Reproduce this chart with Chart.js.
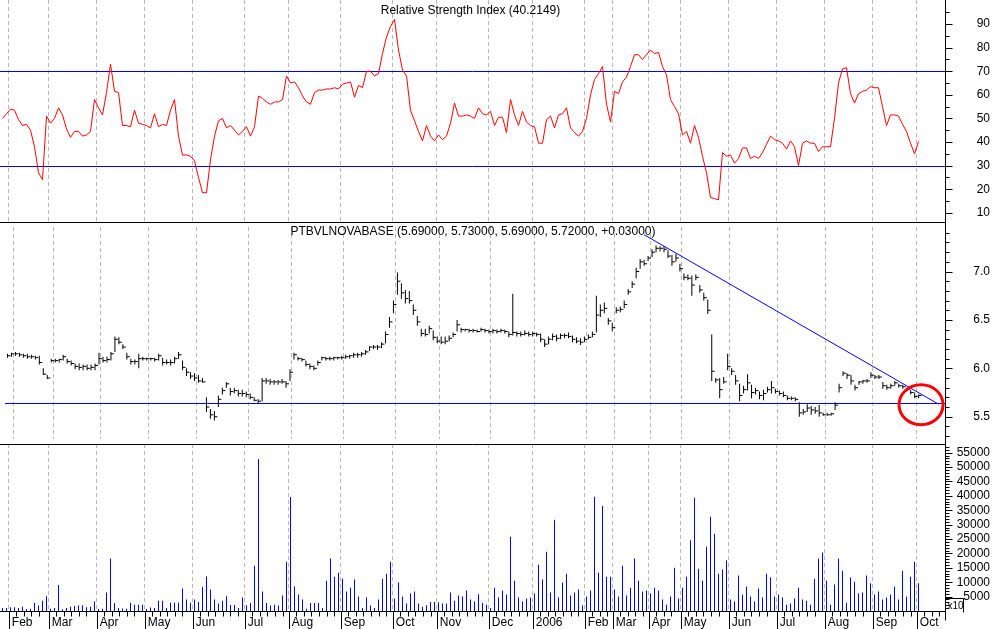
<!DOCTYPE html>
<html>
<head>
<meta charset="utf-8">
<script src="https://cdn.jsdelivr.net/npm/chart.js@4.4.0/dist/chart.umd.min.js"></script>
<style>
  html, body { margin: 0; padding: 0; background: #fff; }
  #wrap { position: relative; width: 994px; height: 629px; overflow: hidden; }
  canvas { position: absolute; left: 0; }
</style>
</head>
<body>
<div id="wrap">
  <canvas id="chartRsi" width="994" height="222" style="top:0"></canvas>
  <canvas id="chartPrice" width="994" height="222" style="top:222px"></canvas>
  <canvas id="chartVolume" width="994" height="185" style="top:444px"></canvas>
</div>
<script>
"use strict";

// bar index of the first session of each month, and its label
var monthStarts = [2, 12, 24, 36, 48, 61, 72, 85, 98, 109, 122, 133, 146, 153, 162, 170, 182, 194, 206, 218, 229];
var monthNames = ["Feb", "Mar", "Apr", "May", "Jun", "Jul", "Aug", "Sep", "Oct", "Nov", "Dec",
                  "2006", "Feb", "Mar", "Apr", "May", "Jun", "Jul", "Aug", "Sep", "Oct"];

var rsiTitle = "Relative Strength Index (40.2149)";
var priceTitle = "PTBVLNOVABASE (5.69000, 5.73000, 5.69000, 5.72000, +0.03000)";

var rsiValues = [
  50, 52, 54, 53.5, 49.5, 47, 47.5, 45, 38, 27,
  24, 51, 48, 50, 54.5, 51.5, 45.5, 42, 44.5, 44.5,
  42.5, 43, 44.5, 58, 54.5, 51.5, 61, 73, 61.5, 61,
  47, 47, 46.5, 53.5, 48, 47.5, 47, 46, 52, 46.5,
  47.5, 47, 53.5, 58, 42.5, 34.5, 34.5, 34, 32, 25,
  18.5, 18.5, 32.5, 42.5, 49, 50, 46, 47, 45, 43,
  44.5, 46.5, 42.5, 46.5, 59.5, 58.5, 57, 56, 57, 57,
  58, 68, 65, 65.5, 63, 59.5, 57, 56, 61, 62,
  62, 62.5, 62.5, 63, 62.5, 64.5, 65, 65.5, 59, 64,
  63, 70, 70, 68, 69, 77.5, 84.5, 89, 92, 79,
  70.5, 68, 53.5, 49, 44.5, 40.5, 47, 42.5, 40.5, 43,
  41, 42.5, 48, 56.5, 51, 51, 51.5, 51, 50, 54.5,
  52, 51.5, 53, 47, 50.5, 50.5, 44, 58, 51.5, 47,
  53, 48.5, 47, 46.5, 39.5, 39.5, 49.5, 51, 46, 51.5,
  52, 54.5, 46, 44, 42.5, 44.5, 50, 60, 66.5, 69,
  72, 56, 48.5, 61.5, 60.5, 65.5, 67.5, 72, 77, 77,
  75, 77, 79, 77.5, 78, 72, 68.5, 58, 55, 52,
  43, 44.5, 39.5, 47, 42, 34, 27, 16.5, 16, 15.5,
  35.5, 34, 34.5, 31, 33, 37.5, 37.5, 33, 34, 33,
  35.5, 39, 42.5, 41, 40.5, 39.5, 37, 40.5, 38, 30,
  39.5, 40.5, 39.5, 39.5, 36, 38, 38, 38, 50, 65,
  71, 71.5, 60.5, 56.5, 60.5, 61.5, 62, 63.5, 63, 63,
  55, 47, 51.5, 51.5, 51, 47.5, 44.5, 39.5, 35, 40.2149
];
var rsiLevels = [70, 30];

var priceHigh = [
  6.15, 6.16, 6.17, 6.16, 6.15, 6.15, 6.14, 6.13, 6.13, 6.00,
  5.93, 6.10, 6.10, 6.10, 6.14, 6.10, 6.08, 6.05, 6.05, 6.04,
  6.04, 6.04, 6.05, 6.16, 6.12, 6.12, 6.17, 6.33, 6.32, 6.25,
  6.16, 6.10, 6.09, 6.15, 6.12, 6.11, 6.11, 6.11, 6.15, 6.11,
  6.09, 6.09, 6.12, 6.17, 6.08, 6.00, 5.96, 5.95, 5.93, 5.90,
  5.70, 5.58, 5.56, 5.72, 5.80, 5.86, 5.80, 5.80, 5.78, 5.78,
  5.76, 5.74, 5.70, 5.68, 5.90, 5.90, 5.89, 5.88, 5.88, 5.89,
  5.87, 5.99, 6.16, 6.12, 6.11, 6.08, 6.05, 6.03, 6.08, 6.12,
  6.12, 6.12, 6.12, 6.12, 6.13, 6.14, 6.14, 6.16, 6.16, 6.17,
  6.19, 6.23, 6.24, 6.24, 6.27, 6.38, 6.53, 6.70, 6.99, 6.88,
  6.81, 6.80, 6.66, 6.54, 6.41, 6.41, 6.44, 6.39, 6.33, 6.33,
  6.33, 6.34, 6.37, 6.50, 6.42, 6.41, 6.41, 6.41, 6.40, 6.42,
  6.41, 6.40, 6.41, 6.40, 6.41, 6.40, 6.38, 6.77, 6.38, 6.38,
  6.39, 6.38, 6.38, 6.37, 6.36, 6.30, 6.33, 6.36, 6.35, 6.36,
  6.36, 6.37, 6.34, 6.32, 6.31, 6.33, 6.35, 6.38, 6.75, 6.66,
  6.68, 6.52, 6.47, 6.63, 6.64, 6.70, 6.82, 6.90, 7.04, 7.13,
  7.12, 7.16, 7.23, 7.27, 7.26, 7.26, 7.22, 7.17, 7.18, 7.08,
  6.98, 6.97, 6.96, 6.97, 6.86, 6.78, 6.71, 6.35, 5.90, 5.90,
  5.91, 6.15, 6.00, 5.93, 5.84, 5.82, 5.94, 5.83, 5.80, 5.76,
  5.78, 5.81, 5.87, 5.79, 5.77, 5.76, 5.72, 5.71, 5.70, 5.65,
  5.58, 5.63, 5.61, 5.60, 5.62, 5.54, 5.54, 5.54, 5.65, 5.84,
  5.97, 5.95, 5.93, 5.83, 5.87, 5.88, 5.89, 5.96, 5.93, 5.93,
  5.86, 5.83, 5.84, 5.87, 5.84, 5.83, 5.80, 5.78, 5.75, 5.73
];
var priceLow = [
  6.11, 6.12, 6.13, 6.12, 6.11, 6.10, 6.10, 6.09, 6.04, 5.93,
  5.89, 6.06, 6.06, 6.06, 6.08, 6.05, 6.03, 5.99, 5.98, 5.98,
  5.98, 5.98, 5.98, 6.04, 6.06, 6.06, 6.08, 6.17, 6.25, 6.20,
  6.09, 6.04, 6.04, 6.00, 6.08, 6.08, 6.08, 6.07, 6.08, 6.03,
  6.04, 6.03, 6.05, 6.10, 5.98, 5.92, 5.89, 5.87, 5.85, 5.85,
  5.55, 5.48, 5.46, 5.60, 5.73, 5.80, 5.72, 5.74, 5.71, 5.71,
  5.70, 5.68, 5.66, 5.64, 5.66, 5.84, 5.83, 5.83, 5.83, 5.84,
  5.80, 5.87, 6.09, 6.08, 6.07, 6.02, 5.99, 5.98, 6.03, 6.08,
  6.08, 6.08, 6.08, 6.09, 6.09, 6.10, 6.10, 6.11, 6.11, 6.12,
  6.14, 6.18, 6.20, 6.19, 6.21, 6.26, 6.42, 6.57, 6.76, 6.72,
  6.67, 6.67, 6.55, 6.44, 6.33, 6.33, 6.36, 6.29, 6.26, 6.25,
  6.25, 6.28, 6.32, 6.38, 6.37, 6.38, 6.37, 6.37, 6.37, 6.38,
  6.37, 6.36, 6.36, 6.36, 6.37, 6.36, 6.32, 6.34, 6.33, 6.33,
  6.34, 6.33, 6.33, 6.33, 6.27, 6.22, 6.25, 6.29, 6.28, 6.30,
  6.31, 6.31, 6.27, 6.26, 6.24, 6.27, 6.30, 6.32, 6.37, 6.53,
  6.57, 6.45, 6.38, 6.57, 6.58, 6.62, 6.76, 6.83, 6.93, 7.03,
  7.06, 7.11, 7.15, 7.20, 7.21, 7.20, 7.14, 7.06, 7.10, 7.00,
  6.91, 6.91, 6.75, 6.91, 6.78, 6.70, 6.56, 5.87, 5.85, 5.69,
  5.84, 5.98, 5.93, 5.83, 5.66, 5.74, 5.77, 5.69, 5.73, 5.68,
  5.67, 5.75, 5.74, 5.74, 5.72, 5.70, 5.67, 5.67, 5.66, 5.50,
  5.52, 5.55, 5.52, 5.53, 5.50, 5.51, 5.51, 5.51, 5.57, 5.75,
  5.92, 5.89, 5.83, 5.77, 5.83, 5.84, 5.85, 5.90, 5.89, 5.89,
  5.79, 5.78, 5.79, 5.82, 5.80, 5.79, 5.76, 5.73, 5.69, 5.69
];
var priceClose = [
  6.13, 6.15, 6.15, 6.14, 6.13, 6.12, 6.12, 6.11, 6.06, 5.94,
  5.90, 6.08, 6.08, 6.09, 6.12, 6.07, 6.05, 6.02, 6.01, 6.02,
  6.00, 6.01, 6.03, 6.10, 6.08, 6.09, 6.15, 6.30, 6.27, 6.22,
  6.12, 6.07, 6.07, 6.10, 6.10, 6.10, 6.10, 6.09, 6.13, 6.06,
  6.06, 6.06, 6.10, 6.14, 6.01, 5.96, 5.92, 5.90, 5.87, 5.86,
  5.60, 5.52, 5.50, 5.68, 5.77, 5.84, 5.76, 5.77, 5.74, 5.74,
  5.73, 5.70, 5.67, 5.66, 5.87, 5.87, 5.86, 5.86, 5.86, 5.86,
  5.84, 5.96, 6.14, 6.10, 6.09, 6.04, 6.02, 6.00, 6.06, 6.11,
  6.10, 6.10, 6.11, 6.11, 6.11, 6.12, 6.13, 6.14, 6.14, 6.15,
  6.17, 6.22, 6.22, 6.22, 6.25, 6.35, 6.48, 6.66, 6.90, 6.78,
  6.72, 6.70, 6.60, 6.48, 6.36, 6.35, 6.41, 6.32, 6.28, 6.27,
  6.28, 6.31, 6.35, 6.45, 6.40, 6.40, 6.39, 6.39, 6.38, 6.40,
  6.39, 6.38, 6.39, 6.38, 6.39, 6.38, 6.35, 6.37, 6.36, 6.35,
  6.36, 6.35, 6.36, 6.35, 6.30, 6.25, 6.30, 6.33, 6.31, 6.34,
  6.34, 6.33, 6.30, 6.28, 6.27, 6.30, 6.32, 6.35, 6.55, 6.60,
  6.62, 6.49, 6.42, 6.60, 6.61, 6.66, 6.79, 6.87, 7.00, 7.10,
  7.08, 7.14, 7.20, 7.24, 7.24, 7.23, 7.16, 7.10, 7.14, 7.03,
  6.94, 6.93, 6.86, 6.94, 6.81, 6.73, 6.60, 5.97, 5.88, 5.78,
  5.86, 6.02, 5.97, 5.87, 5.72, 5.78, 5.85, 5.75, 5.77, 5.72,
  5.74, 5.78, 5.80, 5.76, 5.74, 5.72, 5.69, 5.69, 5.68, 5.54,
  5.55, 5.59, 5.57, 5.56, 5.54, 5.52, 5.52, 5.53, 5.62, 5.80,
  5.95, 5.93, 5.87, 5.80, 5.86, 5.87, 5.87, 5.93, 5.91, 5.91,
  5.82, 5.80, 5.82, 5.85, 5.82, 5.81, 5.78, 5.75, 5.71, 5.72
];

// hand drawn lines on the price panel
var supportLevel = 5.645;
var trendBars = [160, 234];
var trendPrices = [7.38, 5.63];
var markBar = 229.6;
var markPrice = 5.625;

var volumeValues = [
  1000, 1000, 1300, 1300, 1000, 1500, 700, 800, 2800, 1900,
  3600, 5100, 800, 1000, 9000, 600, 1000, 1500, 1700, 1900,
  2000, 1300, 1500, 3300, 700, 800, 6400, 18200, 2800, 1000,
  900, 800, 2900, 2200, 2200, 2200, 700, 1200, 1000, 3600,
  3600, 1000, 2900, 2900, 2900, 7800, 4000, 2900, 4000, 3100,
  8300, 12000, 7500, 4000, 2600, 3600, 5100, 2100, 2100, 1000,
  4700, 2000, 2800, 15700, 52800, 6800, 2800, 1900, 2200, 1900,
  5400, 17100, 39600, 8500, 5700, 4000, 800, 2800, 2800, 2800,
  1000, 10500, 18200, 11900, 13300, 11200, 6800, 8100, 10900, 5000,
  1000, 4700, 1900, 1000, 4000, 11200, 12900, 17100, 4300, 9900,
  5000, 2600, 6100, 6800, 2600, 1500, 2000, 3100, 3100, 3000,
  2600, 2600, 6400, 3600, 5400, 5000, 7100, 4000, 3300, 5800,
  2900, 2200, 1000, 8100, 4700, 7100, 5700, 25800, 10500, 4700,
  3300, 4300, 4700, 6100, 16100, 10900, 20600, 6400, 31700, 4700,
  9900, 12900, 5400, 6400, 7500, 1900, 5000, 7100, 39700, 13300,
  36500, 11900, 11900, 7500, 5000, 15700, 5400, 8100, 18200, 10500,
  6800, 7100, 6100, 8100, 7100, 4000, 2200, 5000, 15000, 4300,
  8100, 11900, 24600, 39300, 14700, 10500, 22300, 32700, 26800, 12900,
  14400, 17500, 4000, 3300, 12300, 5700, 8500, 5000, 3300, 7800,
  4700, 12900, 11600, 5000, 5700, 4700, 2200, 2600, 4300, 8100,
  4000, 3600, 2200, 11200, 18200, 20300, 10500, 2200, 9200, 18200,
  14000, 2900, 11600, 10200, 6100, 6400, 12300, 9600, 5700, 6800,
  4000, 4700, 5700, 8500, 4000, 14000, 5000, 11900, 17100, 9600
];

var xMin = -0.625;
var xMax = 235.625;

Chart.defaults.font.family = '"Liberation Sans", Arial, sans-serif';
Chart.defaults.font.size = 12;
Chart.defaults.color = "#000";

function noPadding(scale) {
  scale.paddingTop = 0;
  scale.paddingBottom = 0;
  scale.paddingLeft = 0;
  scale.paddingRight = 0;
}

function timeAxis(showLabels) {
  return {
    type: "linear",
    min: xMin,
    max: xMax,
    offset: false,
    afterBuildTicks: function(scale) {
      scale.ticks = monthStarts.map(function(b) { return {value: b - 0.5}; });
    },
    grid: {color: "#b8b8b8", drawTicks: false, offset: false},
    border: {display: false, dash: [4, 3]},
    ticks: {
      display: showLabels,
      autoSkip: false,
      maxRotation: 0,
      minRotation: 0,
      align: "start",
      padding: 4,
      callback: function(v, k) { return " " + monthNames[k]; }
    },
    afterFit: function(scale) {
      scale.height = showLabels ? 18 : 0;
      noPadding(scale);
    }
  };
}

function valueAxis(min, max, tickValues, labelOf) {
  return {
    position: "right",
    min: min,
    max: max,
    afterBuildTicks: function(scale) {
      scale.ticks = tickValues.map(function(v) { return {value: v}; });
    },
    grid: {display: false, drawTicks: false},
    border: {display: false},
    ticks: {
      autoSkip: false,
      crossAlign: "far",
      padding: 0,
      callback: function(v) { return labelOf(v); }
    },
    afterFit: function(scale) {
      scale.width = 45;
      noPadding(scale);
    }
  };
}

function drawValueAxis(chart, bottom) {
  var ctx = chart.ctx;
  var y = chart.scales.y;
  var x0 = Math.round(chart.chartArea.right) + 0.5;
  ctx.save();
  ctx.setLineDash([]);
  ctx.strokeStyle = "#000";
  ctx.lineWidth = 1;
  ctx.beginPath();
  ctx.moveTo(x0, 0);
  ctx.lineTo(x0, bottom);
  y.ticks.forEach(function(t) {
    var py = Math.round(y.getPixelForValue(t.value)) + 0.5;
    var len = t.label ? 7 : 4;
    ctx.moveTo(x0, py);
    ctx.lineTo(x0 + len, py);
  });
  ctx.stroke();
  ctx.restore();
}

function drawTopLine(chart) {
  var ctx = chart.ctx;
  ctx.save();
  ctx.setLineDash([]);
  ctx.strokeStyle = "#000";
  ctx.lineWidth = 1;
  ctx.beginPath();
  ctx.moveTo(0, 0.5);
  ctx.lineTo(chart.chartArea.right, 0.5);
  ctx.stroke();
  ctx.restore();
}

function drawTitle(chart, text, y) {
  var ctx = chart.ctx;
  var area = chart.chartArea;
  ctx.save();
  ctx.font = '12px "Liberation Sans", Arial, sans-serif';
  ctx.fillStyle = "#000";
  ctx.textAlign = "center";
  ctx.textBaseline = "middle";
  ctx.fillText(text, (area.left + area.right) / 2 - 2, y);
  ctx.restore();
}

function drawLevel(chart, value) {
  var ctx = chart.ctx;
  var area = chart.chartArea;
  var py = Math.round(chart.scales.y.getPixelForValue(value)) + 0.5;
  ctx.save();
  ctx.setLineDash([]);
  ctx.strokeStyle = "#0000ff";
  ctx.lineWidth = 1;
  ctx.beginPath();
  ctx.moveTo(area.left, py);
  ctx.lineTo(area.right, py);
  ctx.stroke();
  ctx.restore();
}

function rangeTicks(from, to, step) {
  var out = [];
  for (var k = from; k <= to; k += step) out.push(k);
  return out;
}

var baseOptions = {
  responsive: false,
  animation: false,
  events: [],
  layout: {padding: {left: 0, top: 0, bottom: 0, right: 4}},
  plugins: {legend: {display: false}, tooltip: {enabled: false}, title: {display: false}}
};

function withScales(scales) {
  return Object.assign({}, baseOptions, {scales: scales});
}

// RSI panel
var chartRsi = new Chart("chartRsi", {
  type: "line",
  data: {
    datasets: [{
      data: rsiValues.map(function(v, i) { return {x: i, y: v}; }),
      borderColor: "#ff0000",
      borderWidth: 1,
      pointRadius: 0,
      tension: 0
    }]
  },
  options: withScales({
    x: timeAxis(false),
    y: valueAxis(6.1, 100.2, rangeTicks(10, 95, 5), function(v) {
      return v % 10 === 0 ? String(v) : "";
    })
  }),
  plugins: [{
    id: "rsiDecor",
    beforeDatasetsDraw: function(chart) {
      rsiLevels.forEach(function(v) { drawLevel(chart, v); });
    },
    afterDraw: function(chart) {
      drawTitle(chart, rsiTitle, 11);
      drawValueAxis(chart, chart.height);
    }
  }]
});

// price panel
var chartPrice = new Chart("chartPrice", {
  type: "bar",
  data: {
    datasets: [
      {
        type: "line",
        data: trendBars.map(function(b, k) { return {x: b, y: trendPrices[k]}; }),
        borderColor: "#0000ff",
        borderWidth: 1,
        pointRadius: 0,
        tension: 0
      },
      {
        type: "line",
        data: priceClose.map(function(v, i) { return {x: i, y: v}; }),
        showLine: false,
        pointStyle: "dash",
        pointRadius: 3,
        pointBorderWidth: 1,
        pointBorderColor: "#000",
        pointBackgroundColor: "#000"
      },
      {
        type: "bar",
        data: priceHigh.map(function(h, i) { return {x: i, y: [priceLow[i], h]}; }),
        backgroundColor: "#000",
        barThickness: 1,
        inflateAmount: 0,
        grouped: false
      }
    ]
  },
  options: withScales({
    x: timeAxis(false),
    y: valueAxis(5.27, 7.46, rangeTicks(53, 74, 1).map(function(k) { return k / 10; }), function(v) {
      var k = Math.round(v * 10);
      return k % 5 === 0 ? v.toFixed(1) : "";
    })
  }),
  plugins: [{
    id: "priceDecor",
    beforeDatasetsDraw: function(chart) {
      drawLevel(chart, supportLevel);
    },
    afterDatasetsDraw: function(chart) {
      var ctx = chart.ctx;
      var cx = chart.scales.x.getPixelForValue(markBar);
      var cy = chart.scales.y.getPixelForValue(markPrice);
      ctx.save();
      ctx.setLineDash([]);
      ctx.strokeStyle = "#ff0000";
      ctx.lineWidth = 3;
      ctx.beginPath();
      ctx.ellipse(cx, cy, 22, 20, 0, 0, Math.PI * 2);
      ctx.stroke();
      ctx.restore();
    },
    afterDraw: function(chart) {
      drawTopLine(chart);
      drawTitle(chart, priceTitle, 10);
      drawValueAxis(chart, chart.height);
    }
  }]
});

// volume panel
var chartVolume = new Chart("chartVolume", {
  type: "bar",
  data: {
    datasets: [{
      data: volumeValues.map(function(v, i) { return {x: i, y: v}; }),
      backgroundColor: "#0000ff",
      barThickness: 1,
      inflateAmount: 0,
      grouped: false
    }]
  },
  options: withScales({
    x: timeAxis(true),
    y: valueAxis(0, 58000, rangeTicks(1000, 57000, 1000), function(v) {
      return v % 5000 === 0 ? String(v) : "";
    })
  }),
  plugins: [{
    id: "volumeDecor",
    afterDraw: function(chart) {
      var ctx = chart.ctx;
      var area = chart.chartArea;
      var xs = chart.scales.x;
      var base = Math.round(area.bottom) + 0.5;
      drawTopLine(chart);
      drawValueAxis(chart, base + 9);
      ctx.save();
      ctx.setLineDash([]);
      ctx.strokeStyle = "#000";
      ctx.lineWidth = 1;
      ctx.beginPath();
      ctx.moveTo(0, base);
      ctx.lineTo(area.right, base);
      monthStarts.forEach(function(b, k) {
        var px = Math.round(xs.getPixelForValue(b - 0.5)) + 0.5;
        ctx.moveTo(px, base);
        ctx.lineTo(px, chart.height);
        var end = k + 1 < monthStarts.length ? monthStarts[k + 1] : xMax;
        for (var w = b + 1.9; w < end - 0.9; w += 1.9) {
          var wx = Math.round(xs.getPixelForValue(w - 0.5)) + 0.5;
          ctx.moveTo(wx, base);
          ctx.lineTo(wx, base + 5);
        }
      });
      // multiplier box under the volume scale
      var ax = Math.round(area.right) + 0.5;
      ctx.moveTo(ax, base - 13);
      ctx.lineTo(ax + 18, base - 13);
      ctx.lineTo(ax + 18, base + 1);
      ctx.stroke();
      ctx.font = '10px "Liberation Sans", Arial, sans-serif';
      ctx.fillStyle = "#000";
      ctx.textAlign = "left";
      ctx.textBaseline = "alphabetic";
      ctx.fillText("x10", ax + 2, base - 3);
      ctx.restore();
    }
  }]
});
</script>
</body>
</html>
